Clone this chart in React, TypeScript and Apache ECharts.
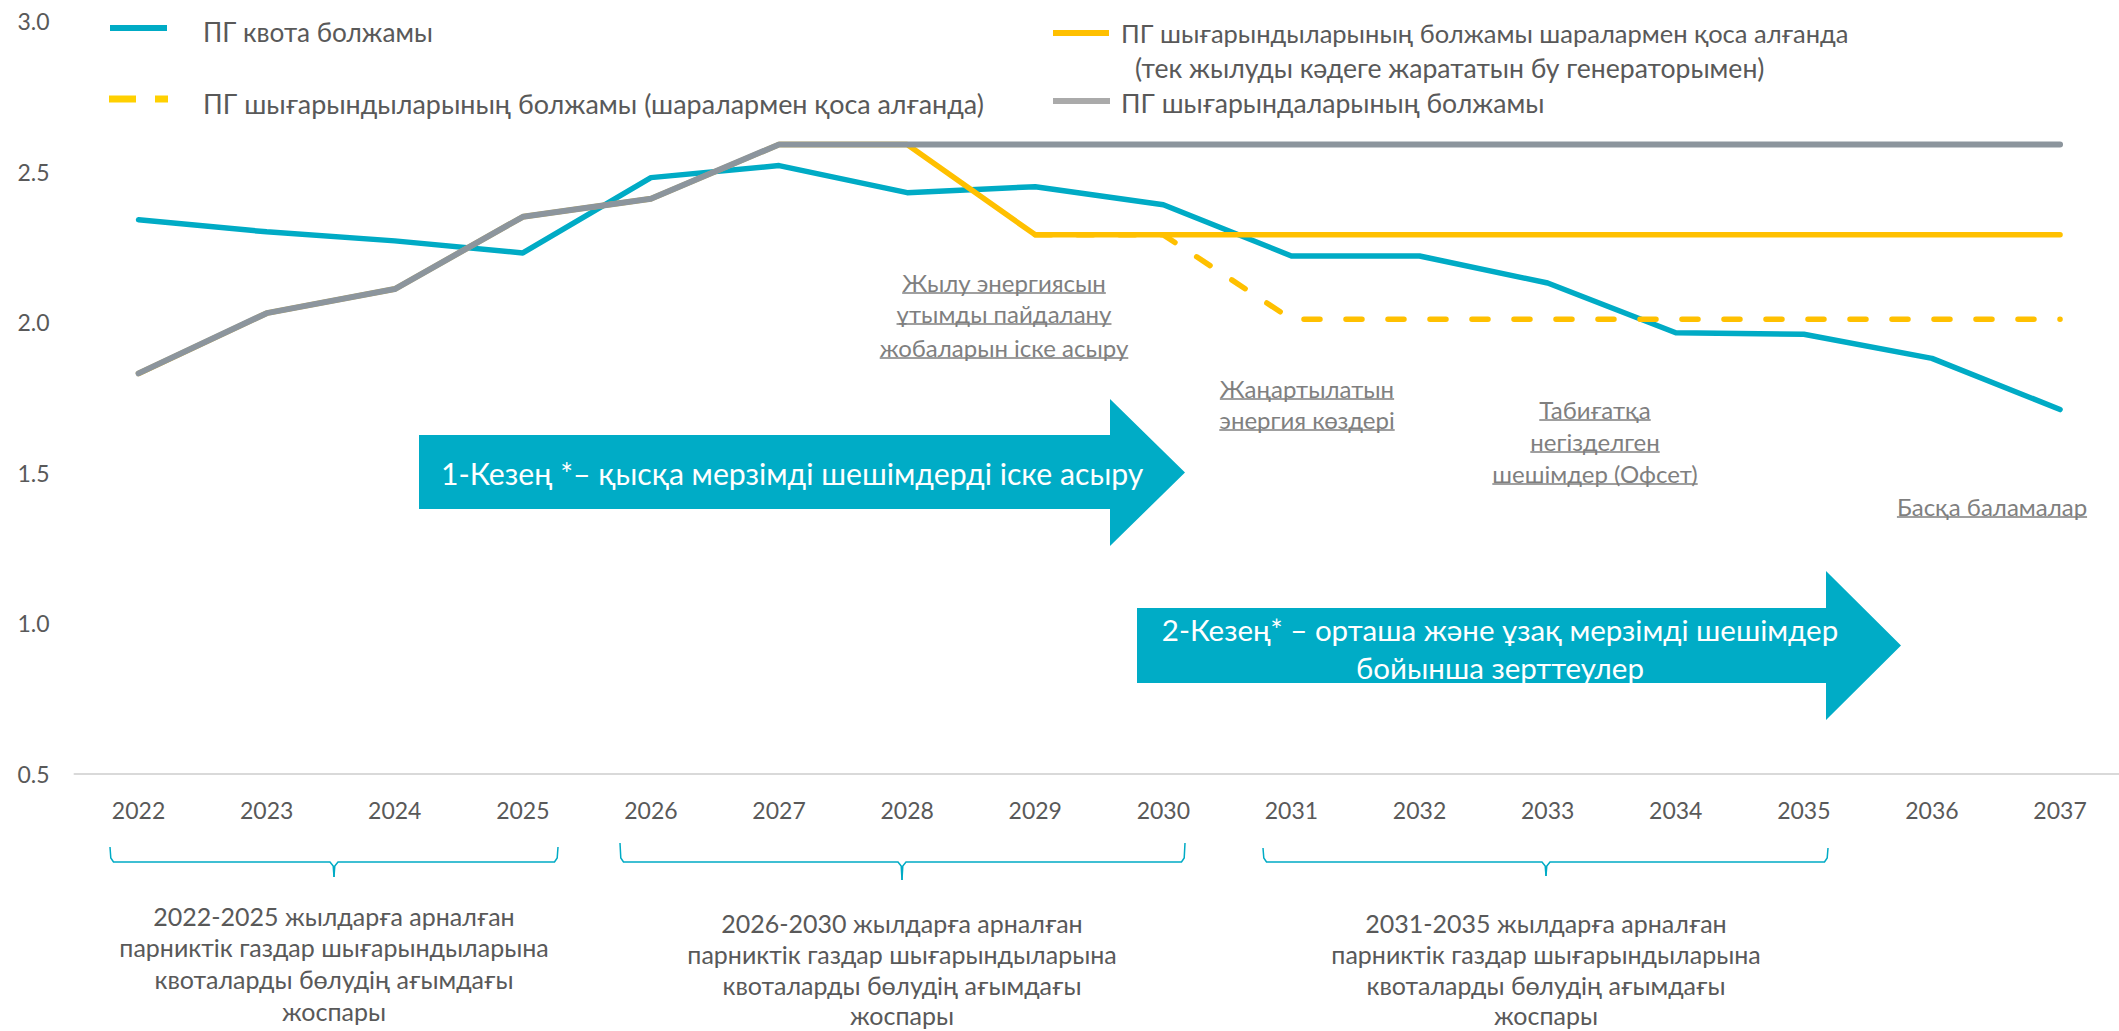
import React, { useEffect, useRef } from "react";
import * as echarts from "echarts";

// ---------- data ----------
const years = ["2022", "2023", "2024", "2025", "2026", "2027", "2028", "2029", "2030", "2031", "2032", "2033", "2034", "2035", "2036", "2037"];
const quotaForecast = [2.34, 2.3, 2.27, 2.23, 2.48, 2.52, 2.43, 2.45, 2.39, 2.22, 2.22, 2.13, 1.965, 1.96, 1.88, 1.71];
const emissionsForecast = [1.83, 2.03, 2.11, 2.35, 2.41, 2.59, 2.59, 2.59, 2.59, 2.59, 2.59, 2.59, 2.59, 2.59, 2.59, 2.59];
const measuresChpForecast = [1.83, 2.03, 2.11, 2.35, 2.41, 2.59, 2.59, 2.29, 2.29, 2.29, 2.29, 2.29, 2.29, 2.29, 2.29, 2.29];
const measuresAllForecast = [null, null, null, null, null, null, null, 2.29, 2.29, 2.01, 2.01, 2.01, 2.01, 2.01, 2.01, 2.01];
const yMin = 0.5;
const yMax = 3.0;
const yStep = 0.5;

// ---------- texts ----------
const seriesNames = [
  "ПГ квота болжамы",
  "ПГ шығарындыларының болжамы (шаралармен қоса алғанда)",
  "ПГ шығарындыларының болжамы шаралармен қоса алғанда",
  "ПГ шығарындаларының болжамы",
];
const legendSecondLine = "(тек жылуды кәдеге жарататын бу генераторымен)";
const annotationTexts = [
  ["Жылу энергиясын", "ұтымды пайдалану", "жобаларын іске асыру"],
  ["Жаңартылатын", "энергия көздері"],
  ["Табиғатқа", "негізделген", "шешімдер (Офсет)"],
  ["Басқа баламалар"],
];
const stageTexts = [
  ["1-Кезең *– қысқа мерзімді шешімдерді іске асыру"],
  ["2-Кезең* – орташа және ұзақ мерзімді шешімдер", "бойынша зерттеулер"],
];
const periodTexts = [
  ["2022-2025 жылдарға арналған", "парниктік газдар шығарындыларына", "квоталарды бөлудің ағымдағы", "жоспары"],
  ["2026-2030 жылдарға арналған", "парниктік газдар шығарындыларына", "квоталарды бөлудің ағымдағы", "жоспары"],
  ["2031-2035 жылдарға арналған", "парниктік газдар шығарындыларына", "квоталарды бөлудің ағымдағы", "жоспары"],
];

const FONT = "Lato, 'Noto Sans', sans-serif";
const TEAL = "#00ABC5";
const ARROW = "#00ACC6";
const YELLOW = "#FFC000";
const GRAY = "#8C959D";
const TEXT = "#595959";
const NOTE = "#7F7F7F";

function measure(text: string, size: number): number {
  const c = document.createElement("canvas").getContext("2d");
  if (!c) return text.length * size * 0.5;
  c.font = `${size}px Lato`;
  return c.measureText(text).width;
}

function txt(text: string, x: number, y: number, size: number, fill: string, align: string = "left") {
  return {
    type: "text",
    x,
    y,
    silent: true,
    style: {
      text,
      fill,
      fontSize: size,
      fontFamily: FONT,
      align,
      verticalAlign: "middle",
      textAlign: align,
      textVerticalAlign: "middle",
    },
  };
}

function line(x1: number, y1: number, x2: number, y2: number, stroke: string, w: number) {
  return {
    type: "line",
    silent: true,
    shape: { x1, y1, x2, y2 },
    style: { stroke, lineWidth: w },
  };
}

export default function App() {
  const ref = useRef<HTMLDivElement>(null);

  useEffect(() => {
    if (!ref.current) return;
    const chart = echarts.init(ref.current, undefined, { renderer: "svg" });

    const graphics: any[] = [];

    // legend
    graphics.push(line(110, 28, 167, 28, TEAL, 6));
    graphics.push(txt(seriesNames[0], 203, 32, 26.2, TEXT));
    graphics.push(line(109, 99, 136, 99, "#FFD000", 7));
    graphics.push(line(155, 99, 168, 99, "#FFD000", 7));
    graphics.push(txt(seriesNames[1], 203, 103, 26.9, TEXT));
    graphics.push(line(1053, 33, 1109, 33, YELLOW, 6));
    graphics.push(txt(seriesNames[2], 1121, 33, 25.5, TEXT));
    graphics.push(txt(legendSecondLine, 1135, 68, 26.6, TEXT));
    graphics.push(line(1053, 101, 1110, 101, "#AAAAAA", 6));
    graphics.push(txt(seriesNames[3], 1121, 103, 26.6, TEXT));

    // annotations (underlined)
    const AS = 24;
    const annoPos = [
      { x: 1004, ys: [282, 313, 347] },
      { x: 1307, ys: [388, 419] },
      { x: 1595, ys: [409, 441, 473] },
      { x: 1992, ys: [506] },
    ];
    annotationTexts.forEach((lines, i) => {
      lines.forEach((t, j) => {
        const x = annoPos[i].x;
        const y = annoPos[i].ys[j];
        const w = measure(t, AS);
        graphics.push(txt(t, x, y, AS, NOTE, "center"));
        graphics.push(line(x - w / 2, y + 11, x + w / 2, y + 11, NOTE, 1.5));
      });
    });

    // stage arrows
    graphics.push({
      type: "polygon",
      silent: true,
      shape: {
        points: [[419, 435], [1110, 435], [1110, 399], [1185, 472.5], [1110, 546], [1110, 509], [419, 509]],
      },
      style: { fill: ARROW },
    });
    graphics.push({
      type: "polygon",
      silent: true,
      shape: {
        points: [[1137, 608], [1826, 608], [1826, 571], [1901, 645.5], [1826, 720], [1826, 683], [1137, 683]],
      },
      style: { fill: ARROW },
    });
    graphics.push(txt(stageTexts[0][0], 441, 473, 30.2, "#FFFFFF"));
    graphics.push(txt(stageTexts[1][0], 1500, 629, 29.5, "#FFFFFF", "center"));
    graphics.push(txt(stageTexts[1][1], 1500, 667, 29.5, "#FFFFFF", "center"));

    // period braces
    const braces = [
      { l: 110, r: 558, c: 334, top: 847, mid: 862, tip: 877 },
      { l: 620, r: 1185, c: 902, top: 843, mid: 862, tip: 880 },
      { l: 1263, r: 1828, c: 1546, top: 848, mid: 862, tip: 876 },
    ];
    braces.forEach((b) => {
      graphics.push({
        type: "polyline",
        silent: true,
        shape: {
          points: [[b.l, b.top], [b.l + 0.8, b.mid - 4], [b.l + 3.5, b.mid], [b.c - 4, b.mid], [b.c - 0.8, b.mid + 4], [b.c, b.tip]],
        },
        style: { stroke: TEAL, lineWidth: 1.5, fill: null },
      });
      graphics.push({
        type: "polyline",
        silent: true,
        shape: {
          points: [[b.c, b.tip], [b.c + 0.8, b.mid + 4], [b.c + 4, b.mid], [b.r - 3.5, b.mid], [b.r - 0.8, b.mid - 4], [b.r, b.top]],
        },
        style: { stroke: TEAL, lineWidth: 1.5, fill: null },
      });
    });

    // period texts
    const PS = 25;
    const periodPos = [
      { x: 334, y0: 915.5, dy: 31.7 },
      { x: 902, y0: 923, dy: 30.8 },
      { x: 1546, y0: 923, dy: 30.8 },
    ];
    periodTexts.forEach((lines, i) => {
      lines.forEach((t, j) => {
        graphics.push(txt(t, periodPos[i].x, periodPos[i].y0 + j * periodPos[i].dy, PS, TEXT, "center"));
      });
    });

    const option: any = {
      animation: false,
      backgroundColor: "#FFFFFF",
      textStyle: { fontFamily: FONT },
      grid: {
        left: 74.5,
        top: 21,
        width: 2049.6,
        height: 753,
        containLabel: false,
        outerBoundsMode: "none",
      },
      xAxis: {
        type: "category",
        data: years,
        boundaryGap: true,
        axisLine: { show: true, lineStyle: { color: "#D9D9D9", width: 2 } },
        axisTick: { show: false },
        splitLine: { show: false },
        axisLabel: { interval: 0, color: TEXT, fontSize: 23, fontFamily: FONT, margin: 24 },
      },
      yAxis: {
        type: "value",
        min: yMin,
        max: yMax,
        interval: yStep,
        axisLine: { show: false },
        axisTick: { show: false },
        splitLine: { show: false },
        axisLabel: {
          color: TEXT,
          fontSize: 23,
          fontFamily: FONT,
          margin: 25,
          formatter: (v: number) => v.toFixed(1),
        },
      },
      series: [
        {
          name: seriesNames[0],
          type: "line",
          data: quotaForecast,
          showSymbol: false,
          lineStyle: { color: TEAL, width: 5.5, cap: "round", join: "round" },
          z: 2,
        },
        {
          name: seriesNames[1],
          type: "line",
          data: measuresAllForecast,
          showSymbol: false,
          lineStyle: { color: YELLOW, width: 5.5, type: [16, 26], cap: "round", join: "round" },
          z: 3,
        },
        {
          name: seriesNames[2],
          type: "line",
          data: measuresChpForecast,
          showSymbol: false,
          lineStyle: { color: YELLOW, width: 5.5, cap: "round", join: "round" },
          z: 4,
        },
        {
          name: seriesNames[3],
          type: "line",
          data: emissionsForecast,
          showSymbol: false,
          lineStyle: { color: GRAY, width: 6, cap: "round", join: "round" },
          z: 5,
        },
      ],
      graphic: { elements: graphics },
    };

    chart.setOption(option);
    return () => {
      chart.dispose();
    };
  }, []);

  return (
    <div
      ref={ref}
      style={{ position: "absolute", left: 0, top: 0, width: 2119, height: 1031, background: "#FFFFFF" }}
    />
  );
}
